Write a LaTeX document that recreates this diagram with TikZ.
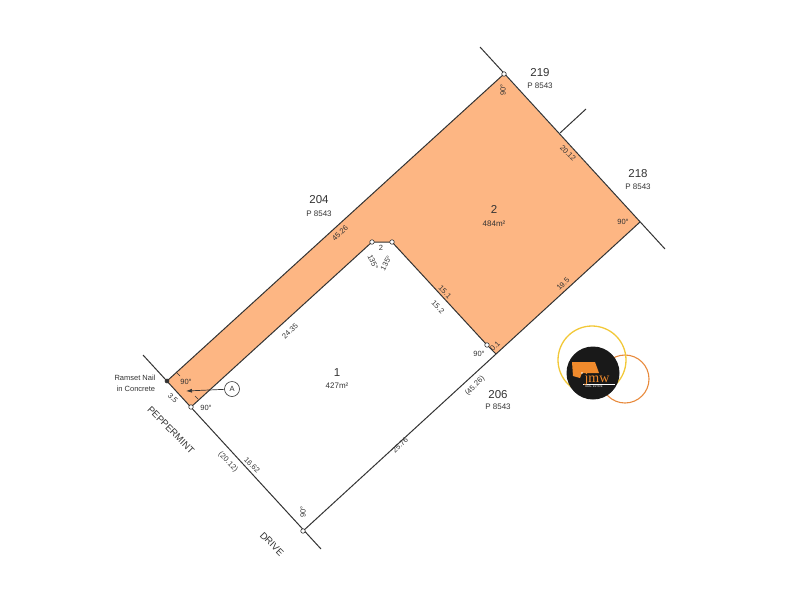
\documentclass[tikz,border=0pt]{standalone}
\usepackage{fontspec}
\setmainfont{Liberation Sans}
\newfontfamily\logoserif{Liberation Serif}
\usetikzlibrary{arrows.meta}
\definecolor{lotfill}{HTML}{FDB683}
\definecolor{ink}{HTML}{333333}
\definecolor{logoO}{HTML}{E88A3C}
\definecolor{logoY}{HTML}{F2C838}
\definecolor{logoF}{HTML}{F08A2C}
\tikzset{
 bound/.style={draw=ink,line width=1pt},
 peg/.style={circle,draw=ink,fill=white,line width=0.6pt,inner sep=0pt,minimum size=4.5pt},
 big/.style={text=ink,font=\fontsize{11.5}{12}\selectfont,inner sep=0pt},
 small/.style={text=ink,font=\fontsize{8}{9}\selectfont,inner sep=0pt},
 tiny/.style={text=ink,font=\fontsize{7.5}{8}\selectfont,inner sep=0pt},
 tick/.style={draw=ink,line width=0.6pt}
}
\begin{document}
\begin{tikzpicture}[x=1pt,y=-1pt]
\useasboundingbox (0,0) rectangle (800,600);
% corners
\coordinate (topext) at (480,47);
\coordinate (top) at (504,74);
\coordinate (stubA) at (560,133);
\coordinate (stubB) at (586,109);
\coordinate (right) at (640,222);
\coordinate (rightext) at (665,249);
\coordinate (nailext) at (143,355);
\coordinate (nail) at (167,381);
\coordinate (front) at (191,407);
\coordinate (bottom) at (303,531);
\coordinate (bottomext) at (321,549);
\coordinate (notchL) at (372,242);
\coordinate (notchR) at (392,242);
\coordinate (inner) at (487,345);
\coordinate (lower) at (496,354);
% lot 2
\fill[lotfill] (nail) -- (top) -- (right) -- (lower) -- (inner) -- (notchR) -- (notchL) -- (front) -- cycle;
% boundaries
\draw[bound] (nail) -- (top);
\draw[bound] (topext) -- (rightext);
\draw[bound] (stubA) -- (stubB);
\draw[bound] (right) -- (bottom);
\draw[bound] (nailext) -- (bottomext);
\draw[bound] (front) -- (notchL) -- (notchR) -- (inner) -- (lower);
\draw[tick] (176,372) -- (180,376);
\draw[tick] (195,396) -- (198,399);
% pegs
\node[peg] (ptop) at (top) {};
\node[peg,fill=ink,minimum size=4pt] (pnail) at (nail) {};
\node[peg] (pfront) at (front) {};
\node[peg] (pbottom) at (bottom) {};
\node[peg] (pnl) at (notchL) {};
\node[peg] (pnr) at (notchR) {};
\node[peg] (pinner) at (inner) {};
% labels
\node[big] (t204) at (319,200) {204};
\node[small] (p204) at (319,214) {P 8543};
\node[big] (t219) at (540,73) {219};
\node[small] (p219) at (540,86) {P 8543};
\node[big] (t218) at (638,174) {218};
\node[small] (p218) at (638,187) {P 8543};
\node[big] (t206) at (498,395) {206};
\node[small] (p206) at (498,407) {P 8543};
\node[big] (t2) at (494,209) {2};
\node[small] (a2) at (494,224) {484m²};
\node[big] (t1) at (337,373) {1};
\node[small] (a1) at (337,386) {427m²};
\node[tiny,rotate=45] (d1) at (340,233) {45.26};
\node[tiny,rotate=45] (d2) at (290,331) {24.35};
\node[tiny] (d3) at (381,248) {2};
\node[tiny,rotate=-65] (d4) at (373,262) {135°};
\node[tiny,rotate=62] (d5) at (386,263) {135°};
\node[tiny,rotate=-45] (d6) at (445,292) {15.1};
\node[tiny,rotate=-45] (d7) at (438,307) {15.2};
\node[tiny,rotate=45] (d8) at (495,346) {0.1};
\node[tiny] (d9) at (479,354) {90°};
\node[tiny,rotate=45] (d10) at (563,284) {19.5};
\node[tiny] (d11) at (623,222) {90°};
\node[tiny,rotate=-45] (d12) at (568,153) {20.12};
\node[tiny,rotate=90] (d13) at (503,90) {90°};
\node[tiny,rotate=45] (d14) at (475,386) {(45.26)};
\node[tiny,rotate=45] (d15) at (400,445) {25.76};
\node[tiny,rotate=-45] (d16) at (252,465) {16.62};
\node[tiny,rotate=-45] (d17) at (228,462) {(20.12)};
\node[tiny,rotate=90] (d18) at (303,512) {90°};
\node[tiny] (d19) at (206,408) {90°};
\node[tiny] (d20) at (186,382) {90°};
\node[tiny,rotate=-45] (d21) at (173,398) {3.5};
\node[text=ink,font=\fontsize{9.5}{10}\selectfont,inner sep=0pt,rotate=-45] (pep) at (171,430) {PEPPERMINT};
\node[text=ink,font=\fontsize{9.5}{10}\selectfont,inner sep=0pt,rotate=-45] (drive) at (272,544) {DRIVE};
\node[tiny] (n1) at (135,378) {Ramset Nail};
\node[tiny] (n2) at (136,389) {in Concrete};
\node[circle,draw=ink,line width=0.6pt,minimum size=15pt,inner sep=0pt,text=ink,font=\fontsize{7.5}{8}\selectfont] (circA) at (232,389) {A};
\coordinate (arrowEnd) at (186,391);
\draw[ink,line width=0.7pt,-{Latex[length=6pt,width=4pt]}] (circA) -- (arrowEnd);
% logo
\draw[logoO,line width=1.1pt] (625,379) circle[radius=24];
\draw[logoY,line width=1.3pt] (592,360) circle[radius=34];
\fill[black!90] (593,373) circle[radius=26.5];
\fill[logoF] (572,362) -- (595,362) -- (599,373) -- (582,373) -- (580,378) -- (573,376) -- cycle;
\fill[white] (582,373) circle[radius=0.8];
\draw[white,line width=0.5pt] (583,384) -- (615,384);
\node[text=logoF,font=\logoserif\fontsize{14}{14}\selectfont,inner sep=0pt] (jmw) at (597,379) {jmw};
\node[text=white,font=\fontsize{2.6}{3}\selectfont,inner sep=0pt] (re) at (594,387) {REAL ESTATE};
\end{tikzpicture}
\end{document}
